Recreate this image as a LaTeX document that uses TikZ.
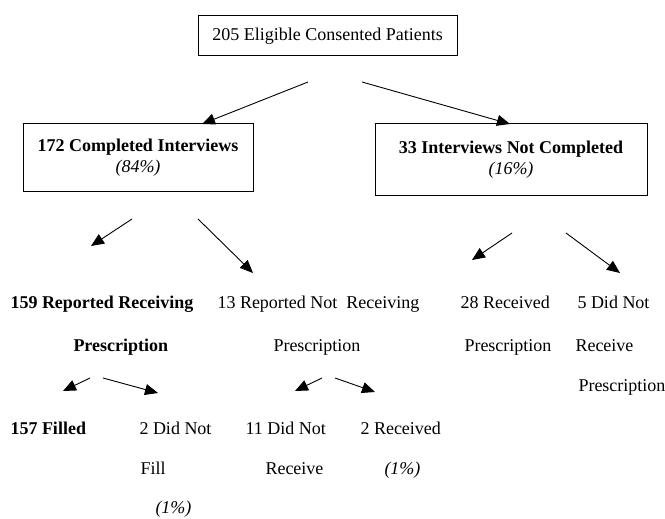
\documentclass[tikz,border=0pt]{standalone}
\usepackage{fontspec}
\setmainfont{Liberation Serif}
\usepackage{tikz}
\usetikzlibrary{arrows.meta}

\begin{document}
\begin{tikzpicture}[x=1pt,y=1pt,font=\fontsize{18}{21}\selectfont,line width=1pt,
	box/.style={rectangle,draw=black,inner sep=0pt,align=center},
	lbl/.style={anchor=base west,inner sep=0pt},
	arr/.style={-{Triangle[length=13pt,width=11pt]},line width=0.9pt}]
	\useasboundingbox (0,0) rectangle (665,519);
	\node[box,name=pat,minimum width=259,minimum height=40] at (327.5,483) {205 Eligible Consented Patients};
	\node[box,name=cmp,minimum width=230,minimum height=68] at (138,361) {\textbf{172 Completed Interviews}\\\textit{(84\%)}};
	\node[box,name=ncmp,minimum width=272,minimum height=72] at (511,359) {\textbf{33 Interviews Not Completed}\\\textit{(16\%)}};

	\node[lbl,name=rr1] at (10,210) {\textbf{159 Reported Receiving}};
	\node[lbl,name=rr2] at (73,167) {\textbf{Prescription}};
	\node[lbl,name=rn1] at (217,210) {13 Reported Not\ \ Receiving};
	\node[lbl,name=rn2] at (273,167) {Prescription};
	\node[lbl,name=rc1] at (460,210) {28 Received};
	\node[lbl,name=rc2] at (464,167) {Prescription};
	\node[lbl,name=nr1] at (577,210) {5 Did Not};
	\node[lbl,name=nr2] at (575,167) {Receive};
	\node[lbl,name=nr3] at (578,127) {Prescription};

	\node[lbl,name=fil] at (10,84) {\textbf{157 Filled}};
	\node[lbl,name=nf1] at (139,84) {2 Did Not};
	\node[lbl,name=nf2] at (140,44) {Fill};
	\node[lbl,name=nf3] at (155,5.5) {\textit{(1\%)}};
	\node[lbl,name=nrv1] at (245,84) {11 Did Not};
	\node[lbl,name=nrv2] at (265,44) {Receive};
	\node[lbl,name=rcv1] at (360,84) {2 Received};
	\node[lbl,name=rcv2] at (384,44) {\textit{(1\%)}};

	% arrow ends
	\coordinate (p1) at (308,437);  \coordinate (q1) at (202,395);
	\coordinate (p2) at (362,437);  \coordinate (q2) at (510,395);
	\coordinate (p3) at (132,300);  \coordinate (q3) at (91,273);
	\coordinate (p4) at (198,300);  \coordinate (q4) at (253,246);
	\coordinate (p5) at (512,286);  \coordinate (q5) at (472,259);
	\coordinate (p6) at (566,286);  \coordinate (q6) at (620,246);
	\coordinate (p7) at (90,141);   \coordinate (q7) at (63,128);
	\coordinate (p8) at (103,141);  \coordinate (q8) at (158,126);
	\coordinate (p9) at (322,141);  \coordinate (q9) at (295,128);
	\coordinate (p10) at (335,141); \coordinate (q10) at (375,127);

	\path[arr] (p1) edge (q1)
		(p2) edge (q2)
		(p3) edge (q3)
		(p4) edge (q4)
		(p5) edge (q5)
		(p6) edge (q6)
		(p7) edge (q7)
		(p8) edge (q8)
		(p9) edge (q9)
		(p10) edge (q10);
\end{tikzpicture}
\end{document}
